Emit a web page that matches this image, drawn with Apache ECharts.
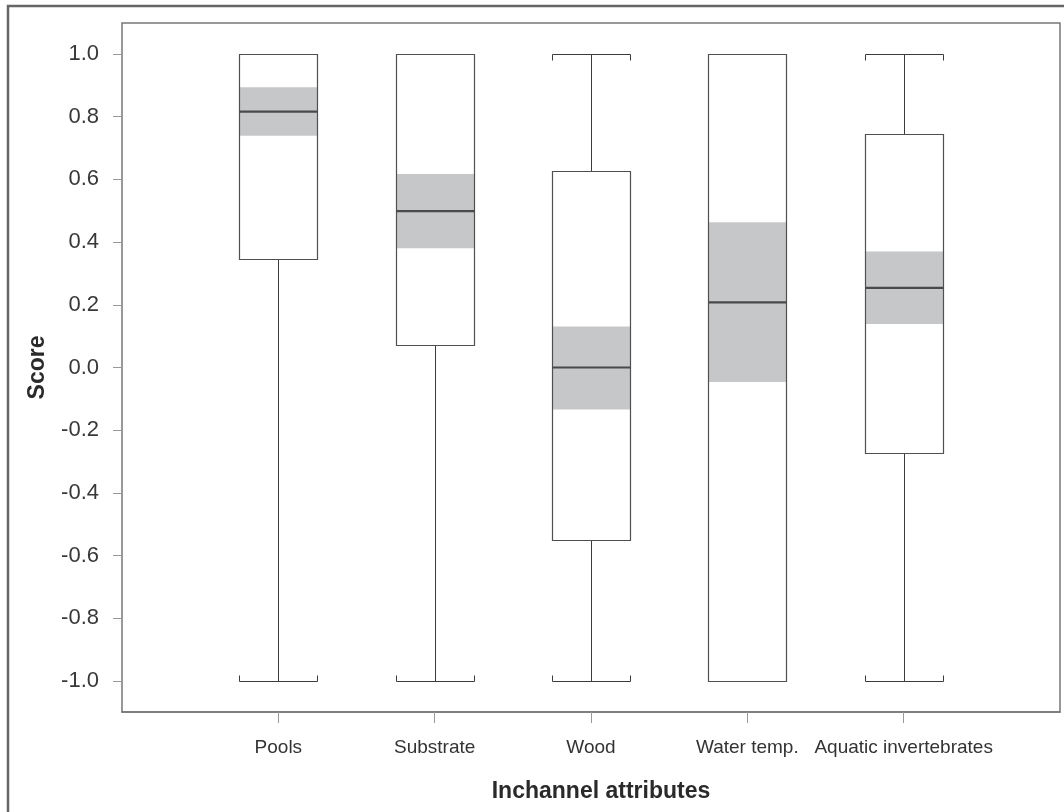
<!DOCTYPE html>
<html>
<head>
<meta charset="utf-8">
<script src="https://cdn.jsdelivr.net/npm/echarts@6/dist/echarts.min.js"></script>
<style>
html,body{margin:0;padding:0;background:#fff;}
#chart{width:1064px;height:812px;}
</style>
</head>
<body>
<div id="chart"></div>
<script>
// ---- data ----
const categories = ['Pools', 'Substrate', 'Wood', 'Water temp.', 'Aquatic invertebrates'];
const whiskerLow  = [-1.0, -1.0, -1.0, -1.0, -1.0];
const q1          = [0.347, 0.073, -0.551, -1.0, -0.272];
const median      = [0.816, 0.499, 0.0, 0.208, 0.254];
const q3          = [1.0, 1.0, 0.628, 1.0, 0.746];
const whiskerHigh = [1.0, 1.0, 1.0, 1.0, 1.0];
const ciLow       = [0.739, 0.380, -0.134, -0.046, 0.139];
const ciHigh      = [0.894, 0.617, 0.131, 0.463, 0.370];
const yTicks = { min: -1.0, max: 1.0, step: 0.2 };
const xTitle = 'Inchannel attributes';
const yTitle = 'Score';

// ---- build ----
const xCats = [''].concat(categories, ['']);
const seriesData = categories.map((c, i) => [i + 1, whiskerLow[i], q1[i], median[i], q3[i], whiskerHigh[i], ciLow[i], ciHigh[i]]);

const FONT = 'Liberation Sans, Arial, Helvetica, sans-serif';
const crisp = v => Math.round(v) + 0.5;

function renderItem(params, api) {
  const idx = api.value(0);
  const lo = api.value(1), a = api.value(2), m = api.value(3), b = api.value(4), hi = api.value(5);
  const cl = api.value(6), ch = api.value(7);
  const cx = api.coord([idx, 0])[0];
  const half = api.size([1, 0])[0] * 0.25;
  const xl = crisp(cx - half), xr = crisp(cx + half), xc = crisp(cx);
  const y = v => api.coord([idx, v])[1];
  const yLo = crisp(y(lo)), yA = crisp(y(a)), yM = y(m), yB = crisp(y(b)), yHi = crisp(y(hi));
  const yCl = y(cl), yCh = y(ch);
  const lineStyle = { stroke: '#3c3c3c', lineWidth: 1, fill: null };
  const children = [];
  if (lo < a) {
    children.push({ type: 'line', shape: { x1: xc, y1: yA, x2: xc, y2: yLo }, style: lineStyle });
    children.push({ type: 'polyline', shape: { points: [[xl, yLo - 6], [xl, yLo], [xr, yLo], [xr, yLo - 6]] }, style: lineStyle });
  }
  if (hi > b) {
    children.push({ type: 'line', shape: { x1: xc, y1: yB, x2: xc, y2: yHi }, style: lineStyle });
    children.push({ type: 'polyline', shape: { points: [[xl, yHi + 6], [xl, yHi], [xr, yHi], [xr, yHi + 6]] }, style: lineStyle });
  }
  children.push({ type: 'rect', shape: { x: xl, y: yB, width: xr - xl, height: yA - yB }, style: { fill: '#ffffff', stroke: null } });
  children.push({ type: 'rect', shape: { x: xl, y: yCh, width: xr - xl, height: yCl - yCh }, style: { fill: '#c6c7c9', stroke: null } });
  children.push({ type: 'rect', shape: { x: xl, y: yB, width: xr - xl, height: yA - yB }, style: { fill: null, stroke: '#505050', lineWidth: 1.2 } });
  children.push({ type: 'line', shape: { x1: xl, y1: yM, x2: xr, y2: yM }, style: { stroke: '#4a4a4a', lineWidth: 2.2 } });
  return { type: 'group', children: children };
}

const chart = echarts.init(document.getElementById('chart'), null, { renderer: 'canvas' });
chart.setOption({
  animation: false,
  backgroundColor: '#ffffff',
  textStyle: { fontFamily: FONT },
  graphic: [{
    type: 'rect', z: 100, silent: true,
    shape: { x: 8, y: 6, width: 1100, height: 900 },
    style: { fill: null, stroke: '#666666', lineWidth: 2.5 }
  }],
  grid: [
    { left: 122, right: 4, top: 23, bottom: 100, show: true, borderColor: '#777777', borderWidth: 1.5, backgroundColor: 'transparent', containLabel: false, outerBoundsMode: 'none' },
    { left: 122, right: 4, top: 54, bottom: 131, containLabel: false, outerBoundsMode: 'none' }
  ],
  xAxis: [
    {
      gridIndex: 0, type: 'category', data: xCats, boundaryGap: false, position: 'bottom',
      axisLine: { show: true, onZero: false, lineStyle: { color: '#777777', width: 1.5 } },
      axisTick: { show: true, length: 11, lineStyle: { color: '#999999' }, interval: (i) => i > 0 && i < xCats.length - 1 },
      axisLabel: { show: true, interval: 0, margin: 26, color: '#333333', fontSize: 19, fontFamily: FONT },
      splitLine: { show: false },
      name: xTitle, nameLocation: 'middle', nameGap: 68,
      nameTextStyle: { fontSize: 23, fontWeight: 'bold', color: '#2a2a2a', fontFamily: FONT, padding: [0, 0, 0, 20] }
    },
    {
      gridIndex: 1, type: 'category', data: xCats, boundaryGap: false, show: false,
      axisLine: { show: false, onZero: false }, axisTick: { show: false }, axisLabel: { show: false }
    }
  ],
  yAxis: [
    { gridIndex: 0, type: 'value', min: -1.1, max: 1.1, show: false, splitLine: { show: false }, axisLine: { show: false, onZero: false } },
    {
      gridIndex: 1, type: 'value', min: yTicks.min, max: yTicks.max, interval: yTicks.step,
      axisLine: { show: false, onZero: false },
      axisTick: { show: true, length: 9, lineStyle: { color: '#999999' } },
      axisLabel: { margin: 23, color: '#383838', fontSize: 22, fontFamily: FONT,
        formatter: v => (Math.abs(v) < 1e-9 ? 0 : v).toFixed(1) },
      splitLine: { show: false },
      name: yTitle, nameLocation: 'middle', nameGap: 73, nameRotate: 90,
      nameTextStyle: { fontSize: 23, fontWeight: 'bold', color: '#2a2a2a', fontFamily: FONT }
    }
  ],
  series: [{
    type: 'custom', xAxisIndex: 1, yAxisIndex: 1,
    renderItem: renderItem,
    data: seriesData,
    encode: { x: 0, y: [1, 2, 3, 4, 5, 6, 7] }
  }]
});
</script>
</body>
</html>
